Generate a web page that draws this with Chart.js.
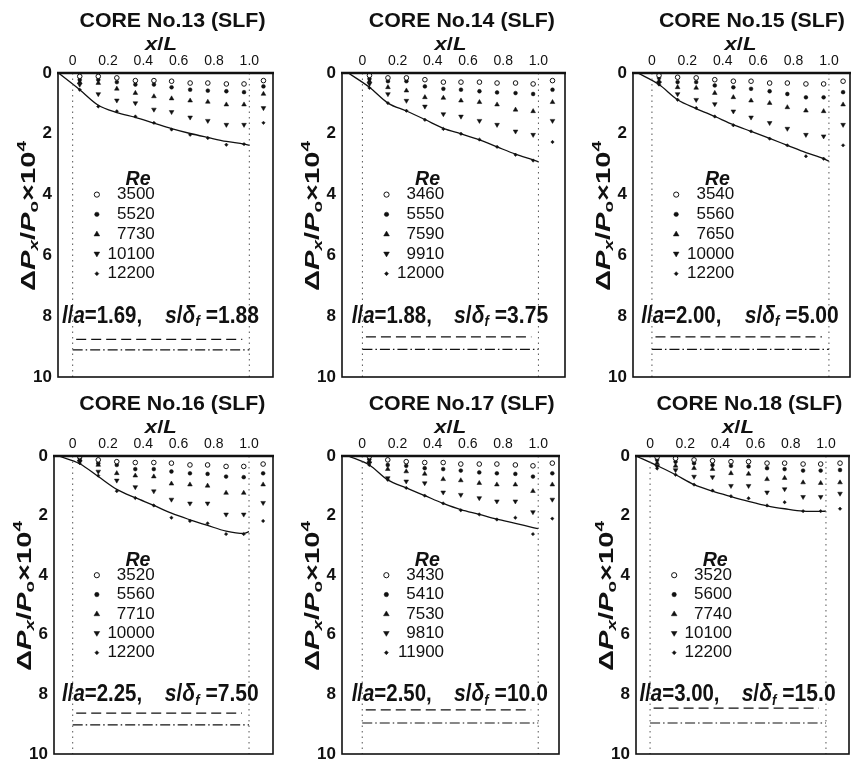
<!DOCTYPE html>
<html>
<head>
<meta charset="utf-8">
<title>CORE No.13-18 (SLF)</title>
<script src="https://cdn.jsdelivr.net/npm/chart.js@4.4.1/dist/chart.umd.min.js"></script>
<style>
  html, body { margin:0; padding:0; background:#ffffff; }
  body { width:866px; height:759px; position:relative; overflow:hidden; }
  canvas { position:absolute; }
</style>
</head>
<body>
<canvas id="p0"></canvas>
<canvas id="p1"></canvas>
<canvas id="p2"></canvas>
<canvas id="p3"></canvas>
<canvas id="p4"></canvas>
<canvas id="p5"></canvas>
<script>
// ===================== DATA =====================
// measuring stations x/L (the last one is past the core exit)
const stations = [0.04, 0.145, 0.25, 0.355, 0.46, 0.56, 0.665, 0.765, 0.87, 0.97, 1.08];
// x/L positions of the faired curve through the highest-Re points
const curveX = [-0.08, 0.04, 0.145, 0.25, 0.355, 0.46, 0.56, 0.665, 0.765, 0.87, 0.97, 1.0];

const xTickValues = [0, 0.2, 0.4, 0.6, 0.8, 1.0];
const xTickLabels = ['0', '0.2', '0.4', '0.6', '0.8', '1.0'];
const yTickValues = [0, 2, 4, 6, 8, 10];
const yTickLabels = ['0', '2', '4', '6', '8', '10'];

const coreNumbers = [13, 14, 15, 16, 17, 18];
const laValues  = ['1.69', '1.88', '2.00', '2.25', '2.50', '3.00'];
const sdfValues = ['1.88', '3.75', '5.00', '7.50', '10.0', '15.0'];

const re13 = ['3500', '5520', '7730', '10100', '12200'];
const re14 = ['3460', '5550', '7590', '9910', '12000'];
const re15 = ['3540', '5560', '7650', '10000', '12200'];
const re16 = ['3520', '5560', '7710', '10000', '12200'];
const re17 = ['3430', '5410', '7530', '9810', '11900'];
const re18 = ['3520', '5600', '7740', '10100', '12200'];

// ΔPx/Po x10^4 at each station, one row per Re (lowest Re first)
const core13 = [
  [0.11, 0.11, 0.16, 0.25, 0.25, 0.27, 0.33, 0.33, 0.36, 0.36, 0.25],
  [0.22, 0.22, 0.30, 0.38, 0.38, 0.47, 0.55, 0.58, 0.60, 0.63, 0.44],
  [0.30, 0.33, 0.52, 0.66, 0.77, 0.84, 0.91, 0.95, 1.04, 1.04, 0.69],
  [0.38, 0.69, 0.90, 0.99, 1.20, 1.28, 1.46, 1.57, 1.70, 1.70, 1.15],
  [0.55, 1.10, 1.26, 1.43, 1.64, 1.86, 2.03, 2.14, 2.36, 2.34, 1.64]
];
const core14 = [
  [0.08, 0.16, 0.16, 0.22, 0.30, 0.30, 0.30, 0.33, 0.33, 0.36, 0.25],
  [0.19, 0.27, 0.27, 0.44, 0.52, 0.55, 0.60, 0.64, 0.66, 0.69, 0.55],
  [0.27, 0.47, 0.58, 0.80, 0.82, 0.91, 0.96, 1.04, 1.21, 1.26, 0.96],
  [0.36, 0.69, 0.91, 1.10, 1.35, 1.43, 1.57, 1.70, 1.92, 2.03, 1.57],
  [0.49, 0.99, 1.24, 1.54, 1.84, 2.00, 2.19, 2.43, 2.69, 2.88, 2.27]
];
const core15 = [
  [0.08, 0.14, 0.16, 0.22, 0.27, 0.27, 0.33, 0.33, 0.36, 0.36, 0.27],
  [0.16, 0.30, 0.30, 0.41, 0.47, 0.52, 0.60, 0.69, 0.80, 0.80, 0.63],
  [0.27, 0.47, 0.49, 0.66, 0.80, 0.91, 0.99, 1.13, 1.24, 1.26, 1.04],
  [0.33, 0.69, 0.88, 1.02, 1.26, 1.46, 1.64, 1.83, 2.03, 2.08, 1.70],
  [0.38, 0.88, 1.15, 1.43, 1.72, 1.92, 2.16, 2.38, 2.74, 2.82, 2.38]
];
const core16 = [
  [0.02, 0.13, 0.19, 0.22, 0.22, 0.24, 0.30, 0.30, 0.35, 0.35, 0.27],
  [0.08, 0.24, 0.30, 0.44, 0.44, 0.52, 0.58, 0.60, 0.69, 0.71, 0.58],
  [0.13, 0.30, 0.58, 0.66, 0.69, 0.93, 0.96, 1.00, 1.24, 1.24, 0.96],
  [0.19, 0.52, 0.82, 1.04, 1.18, 1.46, 1.59, 1.59, 1.96, 1.96, 1.57],
  [0.24, 0.66, 1.18, 1.41, 1.66, 2.07, 2.18, 2.26, 2.62, 2.62, 2.18]
];
const core17 = [
  [0.02, 0.13, 0.19, 0.22, 0.22, 0.27, 0.27, 0.27, 0.30, 0.33, 0.24],
  [0.11, 0.30, 0.33, 0.41, 0.44, 0.49, 0.55, 0.58, 0.60, 0.69, 0.58],
  [0.19, 0.44, 0.52, 0.60, 0.78, 0.82, 0.91, 0.96, 0.96, 1.18, 0.96],
  [0.24, 0.74, 0.85, 0.91, 1.22, 1.30, 1.41, 1.52, 1.52, 1.88, 1.46],
  [0.30, 0.80, 1.07, 1.33, 1.59, 1.82, 1.96, 2.13, 2.07, 2.62, 2.10]
];
const core18 = [
  [0.04, 0.08, 0.13, 0.16, 0.19, 0.19, 0.24, 0.24, 0.27, 0.27, 0.24],
  [0.13, 0.19, 0.24, 0.30, 0.33, 0.35, 0.41, 0.44, 0.49, 0.49, 0.47],
  [0.24, 0.33, 0.41, 0.44, 0.58, 0.60, 0.78, 0.74, 0.89, 0.91, 0.89],
  [0.35, 0.47, 0.69, 0.71, 1.00, 1.00, 1.22, 1.11, 1.37, 1.37, 1.26],
  [0.42, 0.63, 0.96, 1.16, 1.35, 1.42, 1.66, 1.55, 1.85, 1.85, 1.77]
];

// faired curves (values at curveX)
const curve13 = [0, 0.55, 1.06, 1.30, 1.46, 1.65, 1.83, 1.99, 2.12, 2.25, 2.34, 2.38];
const curve14 = [0, 0.47, 0.99, 1.25, 1.53, 1.82, 2.00, 2.20, 2.43, 2.67, 2.86, 2.92];
const curve15 = [0, 0.38, 0.88, 1.17, 1.43, 1.70, 1.92, 2.15, 2.38, 2.62, 2.82, 2.90];
const curve16 = [0, 0.26, 0.69, 1.12, 1.40, 1.66, 1.92, 2.14, 2.33, 2.52, 2.60, 2.54];
const curve17 = [0, 0.30, 0.80, 1.07, 1.33, 1.59, 1.80, 1.96, 2.12, 2.26, 2.40, 2.44];
const curve18 = [0, 0.32, 0.63, 0.96, 1.18, 1.36, 1.52, 1.67, 1.77, 1.85, 1.86, 1.85];

// core sketch lines at the bottom of each panel (y level)
const coreUpperY = [8.76, 8.68, 8.68, 8.63, 8.52, 8.46];
const coreLowerY = [9.11, 9.09, 9.09, 9.02, 8.96, 8.96];

const reLists = [re13, re14, re15, re16, re17, re18];
const seriesLists = [core13, core14, core15, core16, core17, core18];
const curveLists = [curve13, curve14, curve15, curve16, curve17, curve18];

// ===================== LAYOUT =====================
const panelLayout = [
  { l: 58,  t: 73,  r: 273, b: 377, xmin: -0.083, xmax: 1.134, row: 0 },
  { l: 342, t: 73,  r: 565, b: 377, xmin: -0.116, xmax: 1.151, row: 0 },
  { l: 633, t: 73,  r: 850, b: 377, xmin: -0.107, xmax: 1.119, row: 0 },
  { l: 54,  t: 456, r: 273, b: 757, xmin: -0.106, xmax: 1.136, row: 1 },
  { l: 342, t: 456, r: 559, b: 757, xmin: -0.115, xmax: 1.118, row: 1 },
  { l: 636, t: 456, r: 849, b: 757, xmin: -0.080, xmax: 1.131, row: 1 }
];
const rowTops = [0, 386];
const rowHeights = [392, 373];

const INK = '#111';
const FAM = '"Liberation Sans", Arial, "DejaVu Sans", sans-serif';
Chart.defaults.font.family = FAM;
Chart.defaults.color = INK;

const markerStyles = [
  { pointStyle: 'circle',  rotation: 0,   radius: 2.3, bg: '#ffffff', bw: 1 },
  { pointStyle: 'circle',  rotation: 0,   radius: 1.9, bg: INK,       bw: 0.5 },
  { pointStyle: 'triangle', rotation: 0,  radius: 2.7, bg: INK,       bw: 0.5 },
  { pointStyle: 'triangle', rotation: 180, radius: 2.7, bg: INK,      bw: 0.5 },
  { pointStyle: 'rectRot', rotation: 0,   radius: 1.7, bg: INK,       bw: 0.5 }
];

function drawFit(ctx, pieces, x, y, align, targetW) {
  let w = 0;
  pieces.forEach(p => { ctx.font = p.font; p.w = ctx.measureText(p.t).width; w += p.w; });
  const sx = targetW ? targetW / w : 1;
  ctx.save();
  ctx.translate(x, y);
  ctx.scale(sx, 1);
  let cx = align === 'center' ? -w / 2 : (align === 'right' ? -w : 0);
  ctx.textAlign = 'left';
  ctx.textBaseline = 'middle';
  pieces.forEach(p => { ctx.font = p.font; ctx.fillText(p.t, cx, p.dy || 0); cx += p.w; });
  ctx.restore();
}

function drawMarker(ctx, k, x, y) {
  const m = markerStyles[k];
  const r = m.radius + 0.3;
  ctx.save();
  ctx.fillStyle = m.bg; ctx.strokeStyle = INK; ctx.lineWidth = m.bw;
  ctx.beginPath();
  if (m.pointStyle === 'circle') {
    ctx.arc(x, y, r, 0, Math.PI * 2);
  } else if (m.pointStyle === 'triangle') {
    const s = m.rotation === 180 ? -1 : 1;
    ctx.moveTo(x, y - s * r);
    ctx.lineTo(x - r * 0.95, y + s * r * 0.6);
    ctx.lineTo(x + r * 0.95, y + s * r * 0.6);
    ctx.closePath();
  } else {
    ctx.moveTo(x, y - r); ctx.lineTo(x + r, y); ctx.lineTo(x, y + r); ctx.lineTo(x - r, y); ctx.closePath();
  }
  ctx.fill(); ctx.stroke();
  ctx.restore();
}

function decoPlugin(idx) {
  return {
    id: 'deco' + idx,
    afterDraw(chart) {
      const { ctx, chartArea: a, scales: { x, y } } = chart;
      ctx.save();
      // frame
      ctx.strokeStyle = INK;
      ctx.lineWidth = 1.6;
      ctx.strokeRect(a.left, a.top, a.right - a.left, a.bottom - a.top);
      ctx.lineWidth = 2.6;
      ctx.beginPath(); ctx.moveTo(a.left - 1, a.top); ctx.lineTo(a.right + 1, a.top); ctx.stroke();
      ctx.fillStyle = INK;
      // panel title
      drawFit(ctx, [{ t: 'CORE No.' + coreNumbers[idx] + ' (SLF)', font: 'bold 20px ' + FAM }],
        x.getPixelForValue(0.565), a.top - 52, 'center', 186);
      // x axis title
      drawFit(ctx, [
        { t: 'x', font: 'italic bold 19px ' + FAM },
        { t: '/', font: 'bold 19px ' + FAM },
        { t: 'L', font: 'italic bold 19px ' + FAM }
      ], x.getPixelForValue(0.5), a.top - 28, 'center', 32);
      // y axis title
      ctx.save();
      ctx.translate(a.left - 29, (a.top + a.bottom) / 2 - 9);
      ctx.rotate(-Math.PI / 2);
      drawFit(ctx, [
        { t: 'Δ', font: 'bold 20px ' + FAM },
        { t: 'P', font: 'italic bold 20px ' + FAM },
        { t: 'x', font: 'italic bold 13px ' + FAM, dy: 5 },
        { t: '/', font: 'bold 20px ' + FAM },
        { t: 'P', font: 'italic bold 20px ' + FAM },
        { t: 'o', font: 'bold 13px ' + FAM, dy: 5 },
        { t: '×10', font: 'bold 20px ' + FAM },
        { t: '4', font: 'bold 13px ' + FAM, dy: -7 }
      ], 0, 0, 'center', 150);
      ctx.restore();
      // Re legend
      drawFit(ctx, [{ t: 'Re', font: 'italic bold 21px ' + FAM }],
        x.getPixelForValue(0.37), y.getPixelForValue(3.5), 'center', 25);
      reLists[idx].forEach((lab, k) => {
        const yy = y.getPixelForValue(4.0 + k * 0.65);
        drawMarker(ctx, k, x.getPixelForValue(0.137), yy);
        ctx.fillStyle = INK;
        ctx.font = '17px ' + FAM;
        ctx.textAlign = 'right';
        ctx.textBaseline = 'middle';
        ctx.fillText(lab, x.getPixelForValue(0.465), yy);
      });
      // parameters
      const yp = y.getPixelForValue(8.0);
      drawFit(ctx, [
        { t: 'l', font: 'italic bold 24px ' + FAM },
        { t: '/', font: 'bold 24px ' + FAM },
        { t: 'a', font: 'italic bold 24px ' + FAM },
        { t: '=' + laValues[idx] + ',', font: 'bold 24px ' + FAM }
      ], x.getPixelForValue(-0.06), yp, 'left', 80);
      drawFit(ctx, [
        { t: 's', font: 'italic bold 24px ' + FAM },
        { t: '/', font: 'bold 24px ' + FAM },
        { t: 'δ', font: 'italic bold 24px ' + FAM },
        { t: 'f', font: 'italic bold 15px ' + FAM, dy: 6 },
        { t: ' =' + sdfValues[idx], font: 'bold 24px ' + FAM }
      ], x.getPixelForValue(1.055), yp, 'right', 94);
      ctx.restore();
    }
  };
}

function buildChart(idx) {
  const L = panelLayout[idx];
  const rowTop = rowTops[L.row];
  const rowH = rowHeights[L.row];
  const cLeft = L.l - 60;
  const cW = (L.r + 12) - cLeft;
  const canvas = document.getElementById('p' + idx);
  canvas.width = cW; canvas.height = rowH;
  canvas.style.left = cLeft + 'px'; canvas.style.top = rowTop + 'px';
  canvas.style.width = cW + 'px'; canvas.style.height = rowH + 'px';

  const datasets = [];
  const lineBase = { showLine: true, pointRadius: 0, fill: false, borderColor: INK };
  datasets.push(Object.assign({}, lineBase, { data: [{ x: 0, y: 0 }, { x: 0, y: 10 }], borderWidth: 1, borderDash: [1.5, 4], borderColor: '#555' }));
  datasets.push(Object.assign({}, lineBase, { data: [{ x: 1, y: 0 }, { x: 1, y: 10 }], borderWidth: 1, borderDash: [1.5, 4], borderColor: '#555' }));
  datasets.push(Object.assign({}, lineBase, { data: [{ x: 0.02, y: coreUpperY[idx] }, { x: 0.96, y: coreUpperY[idx] }], borderWidth: 1.3, borderDash: [10, 5] }));
  datasets.push(Object.assign({}, lineBase, { data: [{ x: 0, y: coreLowerY[idx] }, { x: 1, y: coreLowerY[idx] }], borderWidth: 1.2, borderDash: [10, 3, 1.5, 3] }));
  datasets.push(Object.assign({}, lineBase, {
    data: curveX.map((xv, i) => ({ x: xv, y: curveLists[idx][i] })),
    borderWidth: 1.3, cubicInterpolationMode: 'monotone'
  }));
  seriesLists[idx].forEach((vals, k) => {
    const m = markerStyles[k];
    datasets.push({
      label: reLists[idx][k],
      data: stations.map((xv, i) => ({ x: xv, y: vals[i] })),
      showLine: false,
      pointStyle: m.pointStyle, rotation: m.rotation, pointRadius: m.radius,
      pointBackgroundColor: m.bg, pointBorderColor: INK, pointBorderWidth: m.bw
    });
  });

  new Chart(canvas, {
    type: 'scatter',
    data: { datasets },
    options: {
      responsive: false, animation: false, devicePixelRatio: 1, events: [],
      layout: { padding: { left: 0, top: 0, right: cLeft + cW - L.r, bottom: rowTop + rowH - L.b } },
      plugins: { legend: { display: false }, tooltip: { enabled: false }, title: { display: false } },
      scales: {
        x: {
          type: 'linear', position: 'top', min: L.xmin, max: L.xmax,
          grid: { display: false, drawTicks: false }, border: { display: false },
          afterBuildTicks: s => { s.ticks = xTickValues.map(v => ({ value: v })); },
          afterFit: s => { s.height = L.t - rowTop; s.paddingLeft = 0; s.paddingRight = 0; },
          ticks: { autoSkip: false, maxRotation: 0, minRotation: 0, padding: 3, color: INK,
                   font: { size: 14 }, callback: (v, i) => xTickLabels[i] }
        },
        y: {
          type: 'linear', position: 'left', reverse: true, min: 0, max: 10,
          grid: { display: false, drawTicks: false }, border: { display: false },
          afterBuildTicks: s => { s.ticks = yTickValues.map(v => ({ value: v })); },
          afterFit: s => { s.width = L.l - cLeft; s.paddingTop = 0; s.paddingBottom = 0; },
          ticks: { padding: 6, color: INK, font: { size: 17, weight: 'bold' },
                   callback: (v, i) => yTickLabels[i] }
        }
      }
    },
    plugins: [decoPlugin(idx)]
  });
}

for (let i = 0; i < 6; i++) buildChart(i);
</script>
</body>
</html>
